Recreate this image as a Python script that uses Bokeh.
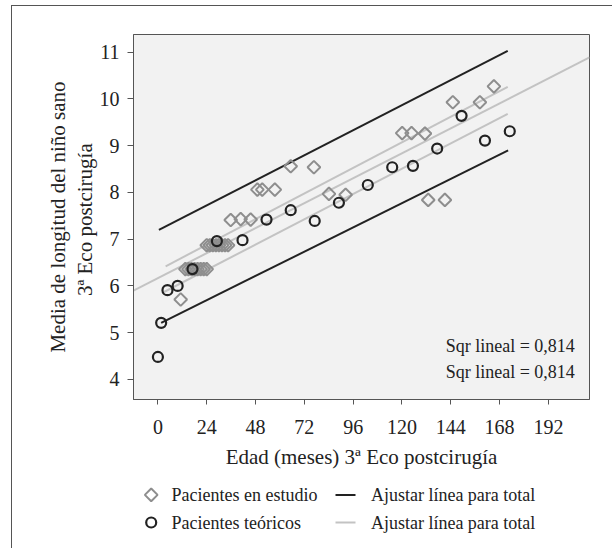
import numpy as np
from bokeh.plotting import figure
from bokeh.layouts import column
from bokeh.models import Range1d, LinearAxis, FixedTicker, Label
from bokeh.core.properties import value
from bokeh.embed import file_html
from bokeh.resources import INLINE

FONT = "Liberation Serif"

# ---- data ----
x_ticks = [0, 24, 48, 72, 96, 120, 144, 168, 192]
y_ticks = [4, 5, 6, 7, 8, 9, 10, 11]

# Pacientes teóricos (circles)
teo_x = [0, 1.6, 4.7, 9.7, 17.0, 29.0, 41.6, 53.4, 65.3, 77.1, 89.0, 103.2,
         115.2, 125.4, 137.3, 149.3, 160.8, 173.0]
teo_y = [4.48, 5.21, 5.91, 6.00, 6.36, 6.96, 6.98, 7.42, 7.62, 7.39, 7.78, 8.16,
         8.54, 8.57, 8.94, 9.64, 9.11, 9.31]

# Pacientes en estudio (diamonds)
est_x = [11.2, 13.5, 15.0, 16.5, 18.0, 19.5, 21.0, 22.5, 24.0,
         24.0, 25.5, 27.0, 28.5, 30.0, 31.5, 33.0, 34.5,
         35.8, 40.7, 45.6, 48.9, 51.3, 57.5, 65.3, 76.7, 84.1, 92.3,
         120.1, 124.7, 131.3, 132.9, 141.1, 145.0, 158.3, 165.2]
est_y = [5.71, 6.36, 6.36, 6.36, 6.36, 6.36, 6.36, 6.36, 6.36,
         6.87, 6.87, 6.87, 6.87, 6.87, 6.87, 6.87, 6.87,
         7.41, 7.43, 7.42, 8.06, 8.06, 8.06, 8.56, 8.54, 7.97, 7.95,
         9.27, 9.27, 9.26, 7.84, 7.84, 9.93, 9.93, 10.27]

# Fit lines (end points)
black_upper_x = [0.5, 172.0]
black_upper_y = [7.20, 11.03]
black_lower_x = [1.6, 172.2]
black_lower_y = [5.21, 8.90]
gray_long_x = [-12.0, 212.2]
gray_long_y = [5.90, 10.89]
gray_upper_x = [3.8, 172.0]
gray_upper_y = [6.42, 10.26]
gray_lower_x = [3.0, 172.0]
gray_lower_y = [5.87, 9.68]

r2_text = ["Sqr lineal = 0,814", "Sqr lineal = 0,814"]
legend_marker_labels = ["Pacientes en estudio", "Pacientes teóricos"]
legend_line_labels = ["Ajustar línea para total", "Ajustar línea para total"]

BLACK = "#222222"
GRAY_LINE = "#c3c3c3"
GRAY_MARK = "#8e8e8e"

W = 600
MB_L, MB_R = 121, 23
p = figure(width=W, height=470, output_backend="svg", toolbar_location=None,
           x_range=Range1d(-12, 212.2), y_range=Range1d(3.57, 11.38),
           min_border_left=MB_L, min_border_right=MB_R, min_border_top=28,
           min_border_bottom=77)

p.background_fill_color = "#f2f2f2"
p.border_fill_color = "white"
p.outline_line_color = "#555555"
p.outline_line_width = 1
p.xgrid.visible = False
p.ygrid.visible = False

p.line(gray_long_x, gray_long_y, line_color=GRAY_LINE, line_width=2)
p.line(gray_upper_x, gray_upper_y, line_color=GRAY_LINE, line_width=2)
p.line(gray_lower_x, gray_lower_y, line_color=GRAY_LINE, line_width=2)
p.line(black_upper_x, black_upper_y, line_color=BLACK, line_width=2)
p.line(black_lower_x, black_lower_y, line_color=BLACK, line_width=2)

p.scatter(est_x, est_y, marker="square", angle=np.pi / 4, size=9,
          fill_color=None, line_color=GRAY_MARK, line_width=2)
p.scatter(teo_x, teo_y, marker="circle", size=10,
          fill_color=None, line_color=BLACK, line_width=2.2)

# axes
for ax in (p.xaxis[0], p.yaxis[0]):
    ax.major_label_text_font = FONT
    ax.major_label_text_font_size = "20px"
    ax.major_label_text_color = BLACK
    ax.axis_label_text_font = FONT
    ax.axis_label_text_font_size = "21px"
    ax.axis_label_text_font_style = "normal"
    ax.axis_label_text_color = BLACK
    ax.axis_line_color = "#555555"
    ax.major_tick_line_color = "#555555"
    ax.major_tick_in = 0
    ax.minor_tick_line_color = None

p.xaxis[0].ticker = FixedTicker(ticks=x_ticks)
p.xaxis[0].major_tick_out = 5
p.xaxis[0].major_label_standoff = 15
p.xaxis[0].axis_label = "Edad (meses) 3ª Eco postcirugía"
p.xaxis[0].axis_label_standoff = 8

p.yaxis[0].ticker = FixedTicker(ticks=y_ticks)
p.yaxis[0].major_tick_out = 6
p.yaxis[0].major_label_standoff = 8
p.yaxis[0].axis_label = "3ª  Eco postcirugía"
p.yaxis[0].axis_label_standoff = 0

extra = LinearAxis(axis_label="Media de longitud del niño sano",
                   ticker=FixedTicker(ticks=[]),
                   axis_line_color=None, major_tick_line_color=None,
                   minor_tick_line_color=None, major_label_text_font_size="0px",
                   major_tick_out=0, major_tick_in=0, major_label_standoff=0,
                   axis_label_standoff=0, axis_label_text_font=FONT,
                   axis_label_text_font_size="21px",
                   axis_label_text_font_style="normal",
                   axis_label_text_color=BLACK)
p.add_layout(extra, "left")

# R² labels
for yy, t in zip([4.72, 4.165], r2_text):
    p.add_layout(Label(x=205, y=yy, text=t, text_align="right",
                       text_baseline="middle", text_font=FONT,
                       text_font_size="18px", text_color=BLACK))

# ---- legend drawn as a small pixel-space figure below ----
# x in figure pixels (frame aligned with the main plot's frame)
LH = 72
lg = figure(width=W, height=LH, output_backend="svg", toolbar_location=None,
            x_range=Range1d(MB_L, W - MB_R), y_range=Range1d(0, LH),
            x_axis_type=None, y_axis_type=None,
            min_border_left=MB_L, min_border_right=MB_R,
            min_border_top=0, min_border_bottom=0)
lg.outline_line_color = None
lg.background_fill_color = "white"
lg.border_fill_color = "white"
lg.xgrid.visible = False
lg.ygrid.visible = False

row_y = [53.6, 26.0]
lg.scatter([138.7], [row_y[0]], marker="square", angle=np.pi / 4, size=9,
           fill_color=None, line_color=GRAY_MARK, line_width=2)
lg.scatter([138.7], [row_y[1]], marker="circle", size=10,
           fill_color=None, line_color=BLACK, line_width=2.2)
lg.line([323, 343], [row_y[0], row_y[0]], line_color=BLACK, line_width=2)
lg.line([323, 343], [row_y[1], row_y[1]], line_color=GRAY_LINE, line_width=2)
lg.text(x=[159, 159], y=row_y, text=legend_marker_labels,
        text_font=value(FONT), text_font_size="18px",
        text_baseline="middle", text_color=BLACK)
lg.text(x=[358.4, 358.4], y=row_y, text=legend_line_labels,
        text_font=value(FONT), text_font_size="18px",
        text_baseline="middle", text_color=BLACK)

layout = column(p, lg, spacing=0)
layout.margin = (5, 0, 0, 11)
layout.styles = {"border-left": "1px solid #555", "border-top": "1px solid #555"}

open("out.html", "w").write(file_html(layout, INLINE))
